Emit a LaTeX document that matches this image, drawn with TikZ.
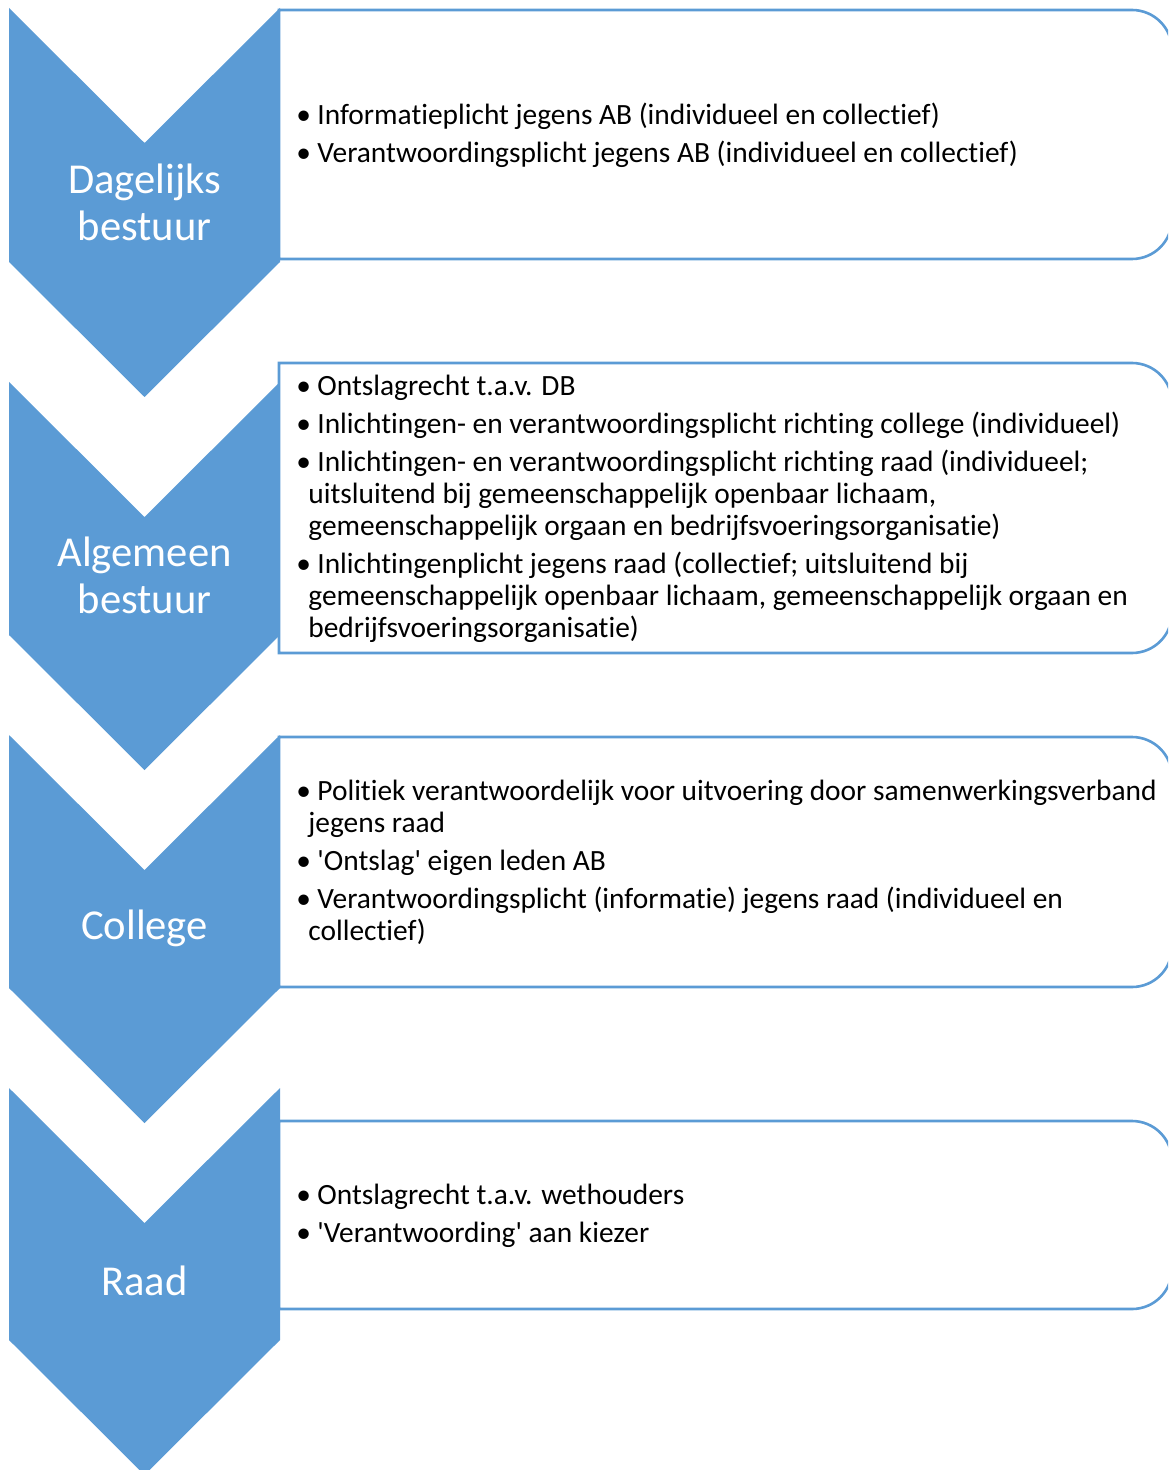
\documentclass[tikz,border=0pt]{standalone}
\usepackage{fontspec}
\setmainfont{Carlito}[Ligatures={NoCommon}]
\usepackage{xcolor}
\usepackage{tikz}
\usetikzlibrary{positioning, calc}

\definecolor{chevblue}{HTML}{5B9BD5}
\newcommand{\itm}{\strut\makebox[10.5pt][l]{\textbullet}}
\newcommand{\cnt}{\hspace*{6pt}}

\begin{document}
\begin{tikzpicture}[x=0.5pt, y=0.5pt,
        chevron/.style={fill=chevblue},
        infobox/.style={draw=chevblue, line width=1.3pt, fill=white},
        phaselabel/.style={text=white, align=center, inner sep=0pt, font=\fontsize{21.3}{23.5}\selectfont},
        itemtext/.style={anchor=north west, align=left, inner sep=0pt, font=\fontsize{14.7}{16}\selectfont}]
        \useasboundingbox (0,0) rectangle (1168,-1470);
        \clip (0,0) rectangle (1168,-1470);

        % Draw chevrons
        \fill[chevron] (9,-8) -- (144.5,-143) -- (280,-8) -- (280,-262) -- (144.5,-397) -- (9,-262) -- cycle;
        \fill[chevron] (9,-382) -- (144.5,-517) -- (280,-382) -- (280,-635) -- (144.5,-770) -- (9,-635) -- cycle;
        \fill[chevron] (9,-735) -- (144.5,-870) -- (280,-735) -- (280,-988) -- (144.5,-1123) -- (9,-988) -- cycle;
        \fill[chevron] (9,-1088) -- (144.5,-1223) -- (280,-1088) -- (280,-1340) -- (144.5,-1475) -- (9,-1340) -- cycle;

        % Draw boxes
        \draw[infobox] (279,-10) -- (1132,-10) arc[start angle=90, end angle=0, radius=20pt] -- (1172,-219) arc[start angle=0, end angle=-90, radius=20pt] -- (279,-259) -- cycle;
        \draw[infobox] (279,-363) -- (1132,-363) arc[start angle=90, end angle=0, radius=20pt] -- (1172,-613) arc[start angle=0, end angle=-90, radius=20pt] -- (279,-653) -- cycle;
        \draw[infobox] (279,-737) -- (1132,-737) arc[start angle=90, end angle=0, radius=20pt] -- (1172,-947) arc[start angle=0, end angle=-90, radius=20pt] -- (279,-987) -- cycle;
        \draw[infobox] (279,-1121) -- (1132,-1121) arc[start angle=90, end angle=0, radius=20pt] -- (1172,-1269) arc[start angle=0, end angle=-90, radius=20pt] -- (279,-1309) -- cycle;

        % Phase labels
        \node[phaselabel] (db) at (144.5,-202) {Dagelijks\\bestuur};
        \node[phaselabel] (ab) at (144.5,-575) {Algemeen\\bestuur};
        \node[phaselabel, anchor=base] (college) at (144.5,-939) {College};
        \node[phaselabel, anchor=base] (raad) at (144.5,-1295) {Raad};

        % Duties
        \node[itemtext] (dbtext) at (296,-101.6) {\itm Informatieplicht jegens AB (individueel en collectief)\\[3pt]
            \itm Verantwoordingsplicht jegens AB (individueel en collectief)};
        \node[itemtext] (abtext) at (296,-372.6) {\itm Ontslagrecht t.a.v. DB\\[3pt]
            \itm Inlichtingen- en verantwoordingsplicht richting college (individueel)\\[3pt]
            \itm Inlichtingen- en verantwoordingsplicht richting raad (individueel;\\
            \cnt uitsluitend bij gemeenschappelijk openbaar lichaam,\\
            \cnt gemeenschappelijk orgaan en bedrijfsvoeringsorganisatie)\\[3pt]
            \itm Inlichtingenplicht jegens raad (collectief; uitsluitend bij\\
            \cnt gemeenschappelijk openbaar lichaam, gemeenschappelijk orgaan en\\
            \cnt bedrijfsvoeringsorganisatie)};
        \node[itemtext] (coltext) at (296,-777.6) {\itm Politiek verantwoordelijk voor uitvoering door samenwerkingsverband\\
            \cnt jegens raad\\[3pt]
            \itm \textquotesingle Ontslag\textquotesingle{} eigen leden AB\\[3pt]
            \itm Verantwoordingsplicht (informatie) jegens raad (individueel en\\
            \cnt collectief)};
        \node[itemtext] (raadtext) at (296,-1181.6) {\itm Ontslagrecht t.a.v. wethouders\\[3pt]
            \itm \textquotesingle Verantwoording\textquotesingle{} aan kiezer};
    \end{tikzpicture}
\end{document}
